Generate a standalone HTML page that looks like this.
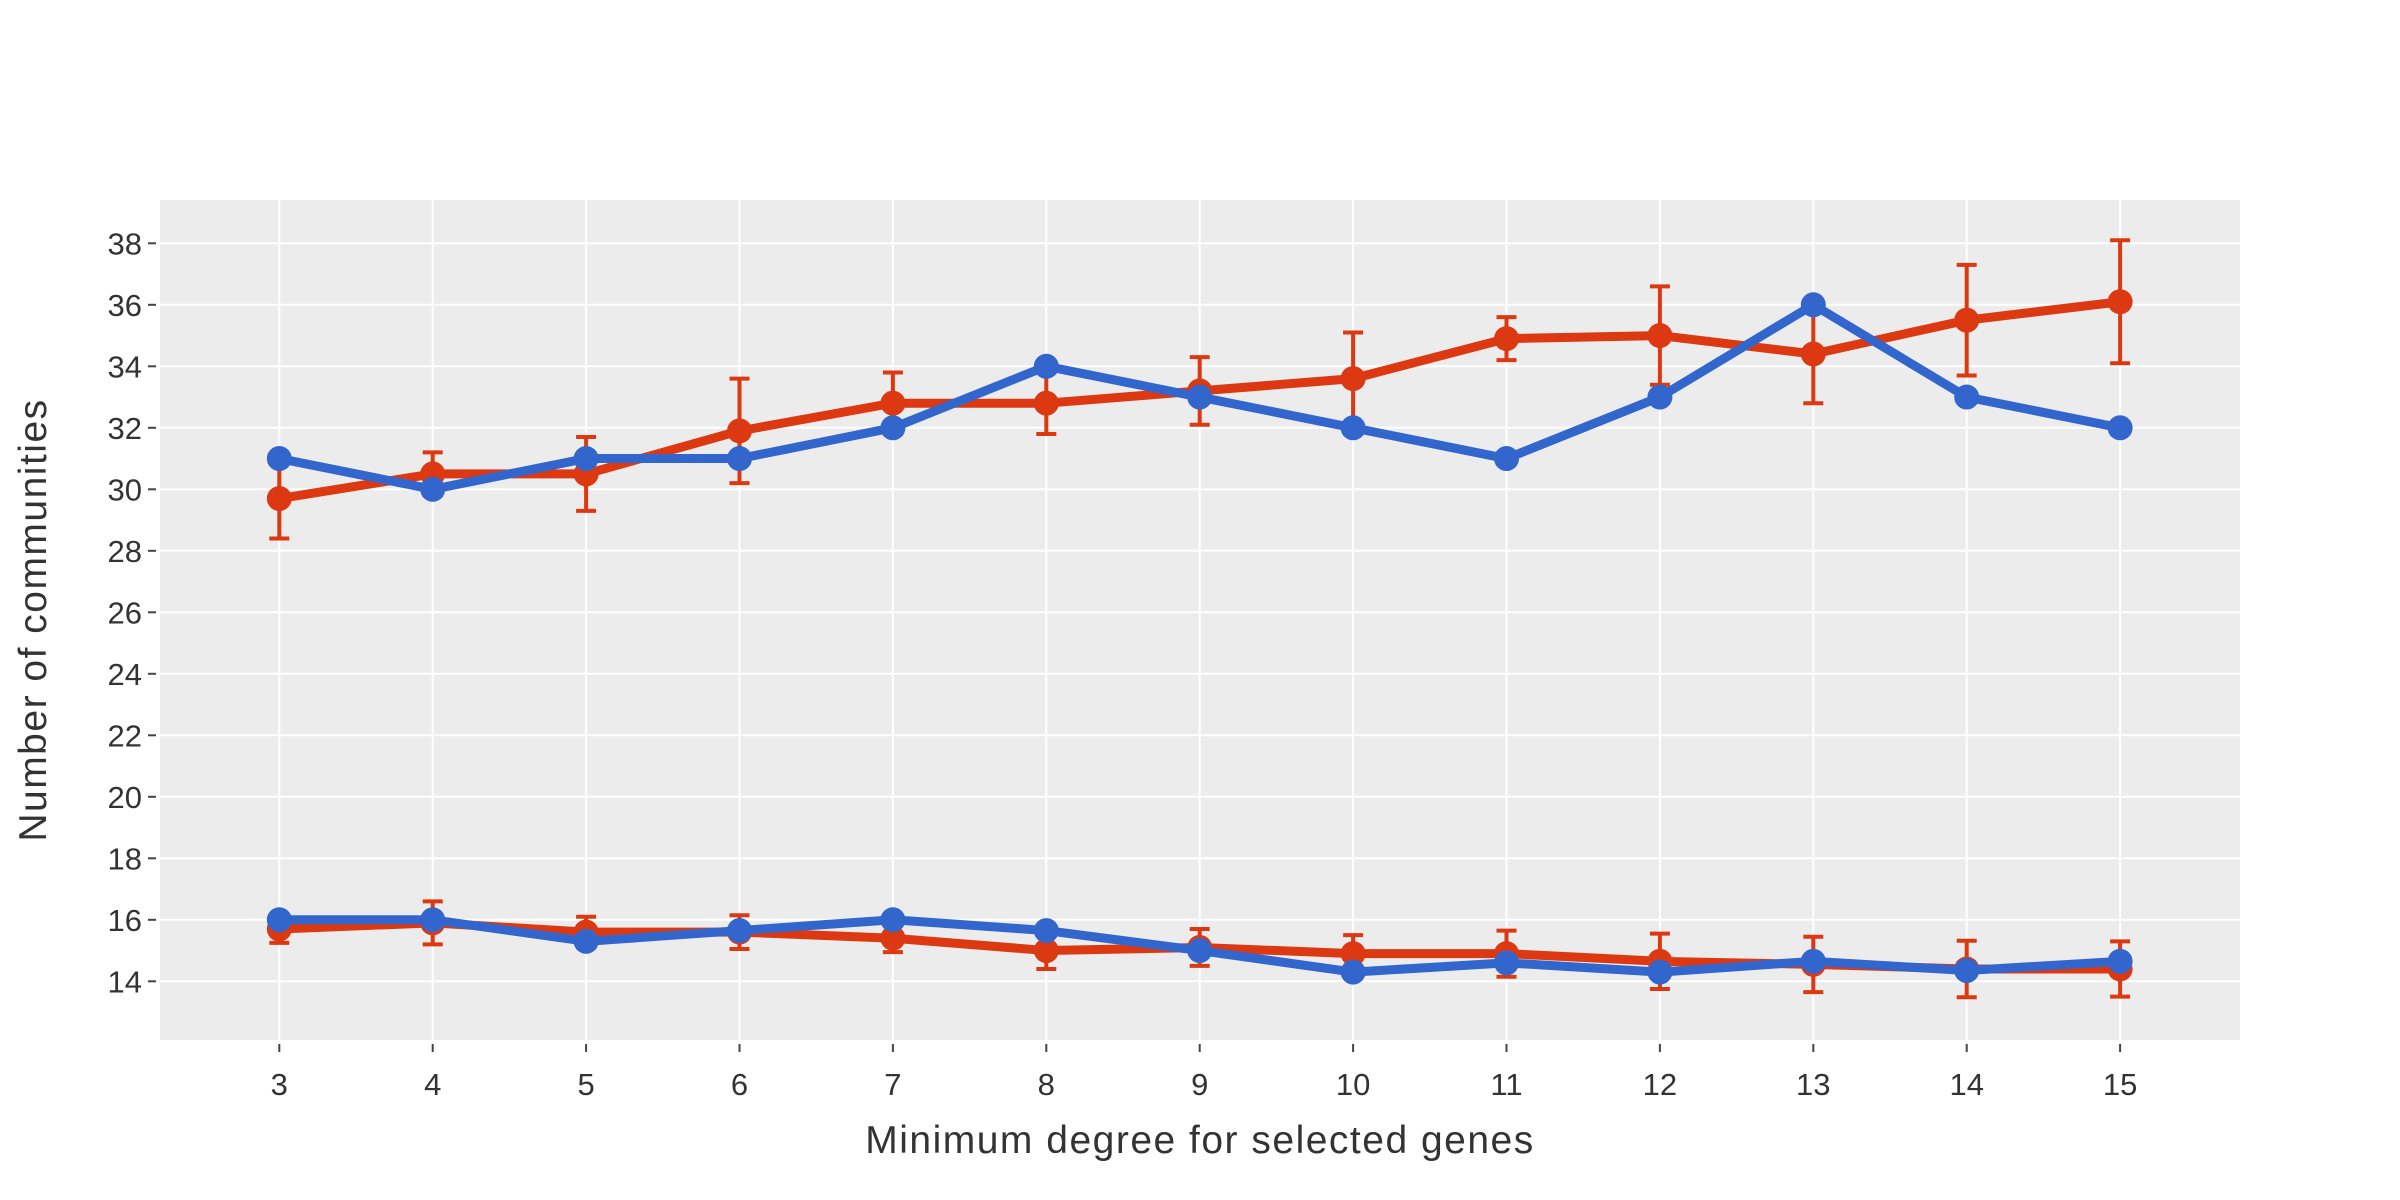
<!DOCTYPE html>
<html><head><meta charset="utf-8"><style>
html,body{margin:0;padding:0;background:#fff;}
svg{display:block;font-family:"Liberation Sans","DejaVu Sans",sans-serif;}
</style></head><body>
<svg id="chart" width="2400" height="1200"></svg>
<script>
const xCats=[3,4,5,6,7,8,9,10,11,12,13,14,15];
const yTicks=[14,16,18,20,22,24,26,28,30,32,34,36,38];
const redUpper=[29.7,30.5,30.5,31.9,32.8,32.8,33.2,33.6,34.9,35.0,34.4,35.5,36.1];
const redUpperErr=[1.3,0.7,1.2,1.7,1.0,1.0,1.1,1.5,0.7,1.6,1.6,1.8,2.0];
const blueUpper=[31,30,31,31,32,34,33,32,31,33,36,33,32];
const redLower=[15.7,15.9,15.6,15.6,15.4,15.0,15.1,14.9,14.9,14.65,14.55,14.4,14.4];
const redLowerErr=[0.45,0.7,0.5,0.55,0.45,0.6,0.6,0.6,0.75,0.9,0.9,0.92,0.9];
const blueLower=[16,16,15.3,15.65,16.0,15.65,15.0,14.3,14.6,14.3,14.65,14.35,14.65];

const L=160,R=2240,T=200,B=1040;
const xs=v=>279.3+(v-3)*153.4;
const ys=v=>243.3+(38-v)*30.75;
const NS="http://www.w3.org/2000/svg";
const svg=document.getElementById('chart');
function mk(tag,attrs,parent){const e=document.createElementNS(NS,tag);for(const k in attrs)e.setAttribute(k,attrs[k]);(parent||svg).appendChild(e);return e;}

const bg=mk('rect',{x:L,y:T,width:R-L,height:B-T,fill:'#ececec'});



const grid=mk('g',{});


yTicks.forEach(t=>{
  mk('line',{x1:L,x2:R,y1:ys(t),y2:ys(t),stroke:'#fff','stroke-width':2},grid);
  mk('line',{x1:L-12,x2:L-4,y1:ys(t),y2:ys(t),stroke:'#444','stroke-width':2},grid);
  const tx=mk('text',{x:L-18,y:ys(t)+11,'text-anchor':'end','font-size':31,fill:'#333'});
  tx.textContent=t;
  
  
});
xCats.forEach(c=>{
  mk('line',{x1:xs(c),x2:xs(c),y1:T,y2:B,stroke:'#fff','stroke-width':2},grid);
  mk('line',{x1:xs(c),x2:xs(c),y1:B+4,y2:B+12,stroke:'#444','stroke-width':2},grid);
  const tx=mk('text',{x:xs(c),y:B+55,'text-anchor':'middle','font-size':31,fill:'#333'});
  tx.textContent=c;
  
  
});

function series(vals,errs,color,name){
  const g=mk('g',{});
  
  
  if(errs){
    vals.forEach((v,i)=>{
      const x=xs(xCats[i]),y1=ys(v+errs[i]),y2=ys(v-errs[i]);
      mk('line',{x1:x,x2:x,y1:y1,y2:y2,stroke:color,'stroke-width':4},g);
      mk('line',{x1:x-10,x2:x+10,y1:y1,y2:y1,stroke:color,'stroke-width':4},g);
      mk('line',{x1:x-10,x2:x+10,y1:y2,y2:y2,stroke:color,'stroke-width':4},g);
    });
  }
  const pts=vals.map((v,i)=>xs(xCats[i])+','+ys(v)).join(' ');
  mk('polyline',{points:pts,fill:'none',stroke:color,'stroke-width':9,'stroke-linejoin':'round'},g);
  vals.forEach((v,i)=>{
    const c=mk('circle',{cx:xs(xCats[i]),cy:ys(v),r:12.5,fill:color},g);
    
    
  });
}
series(redUpper,redUpperErr,'#dc3912','red-upper-series');
series(blueUpper,null,'#3366cc','blue-upper-series');
series(redLower,redLowerErr,'#dc3912','red-lower-series');
series(blueLower,null,'#3366cc','blue-lower-series');

const xt=mk('text',{x:1200,y:1153,'text-anchor':'middle','font-size':39,'letter-spacing':1.5,fill:'#333'});
xt.textContent='Minimum degree for selected genes';


const yt=mk('text',{x:0,y:0,'text-anchor':'middle','font-size':39,'letter-spacing':1.5,fill:'#333',transform:'translate(46,620) rotate(-90)'});
yt.textContent='Number of communities';


</script>
</body></html>
